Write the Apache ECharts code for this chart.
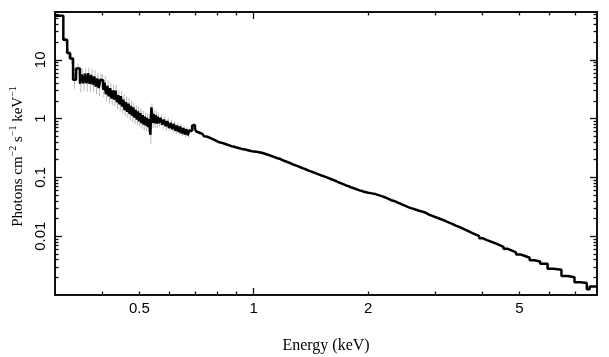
<!DOCTYPE html>
<html>
<head>
<meta charset="utf-8">
<script src="https://cdn.jsdelivr.net/npm/echarts@6/dist/echarts.min.js"></script>
<style>html,body{margin:0;padding:0;background:#fff}#c{width:609px;height:357px}</style>
</head>
<body>
<div id="c"></div>
<script>
// Bin lower edges (keV) and flux (photons cm^-2 s^-1 keV^-1)
const binLo = [
  0.300, 0.3155, 0.323, 0.3286, 0.3347, 0.3408,
  0.3490, 0.3525, 0.3560, 0.3595, 0.3630, 0.3665, 0.3700, 0.3735, 0.3770, 0.3805,
  0.3840, 0.3875, 0.3910, 0.3945, 0.3980, 0.4015, 0.4050, 0.4085, 0.4120, 0.4155,
  0.4190, 0.4225, 0.4260, 0.4295, 0.4330, 0.4365, 0.4400, 0.4435, 0.4470, 0.4505,
  0.4540, 0.4575, 0.4610, 0.4645, 0.4680, 0.4715, 0.4750, 0.4785, 0.4820, 0.4855,
  0.4890, 0.4925, 0.4960, 0.4995, 0.5030, 0.5065, 0.5100, 0.5135, 0.5170, 0.5205,
  0.5240, 0.5275, 0.5310, 0.5345, 0.5380, 0.5415, 0.5450, 0.5485, 0.5520, 0.5555,
  0.5590,
  0.5625, 0.5685, 0.5745, 0.5805, 0.5865, 0.5925, 0.5985, 0.6045, 0.6105, 0.6165,
  0.6225, 0.6285, 0.6345, 0.6405, 0.6465, 0.6525, 0.6585, 0.6645, 0.6705, 0.6765,
  0.6825, 0.6885, 0.6945, 0.7005, 0.7065, 0.7125, 0.7185,
  0.724, 0.732, 0.740, 0.748, 0.757, 0.766, 0.775, 0.784, 0.793,
  0.802, 0.812, 0.822, 0.832, 0.842, 0.852, 0.863, 0.874, 0.885, 0.896,
  0.907, 0.918, 0.930, 0.942, 0.954, 0.966, 0.978, 0.990,
  1.000, 1.025, 1.050, 1.075, 1.100, 1.125, 1.150, 1.175, 1.200, 1.225,
  1.250, 1.275, 1.300, 1.325, 1.350, 1.375, 1.400, 1.425, 1.450, 1.475,
  1.500, 1.525, 1.550, 1.575, 1.600, 1.625, 1.650, 1.675, 1.700, 1.725,
  1.750, 1.775, 1.800, 1.825, 1.850, 1.875, 1.900, 1.925, 1.950, 1.975,
  2.000, 2.03, 2.06, 2.09, 2.12, 2.15, 2.18, 2.21, 2.24, 2.27,
  2.30, 2.34, 2.38, 2.42, 2.46, 2.50, 2.54, 2.58, 2.62, 2.66,
  2.70, 2.74, 2.78, 2.82, 2.86, 2.90, 2.95, 3.00, 3.05, 3.10,
  3.16, 3.22, 3.28, 3.34, 3.40, 3.47, 3.54, 3.61, 3.68, 3.76,
  3.84, 3.92, 4.01, 4.11, 4.21, 4.31, 4.42, 4.54, 4.66, 4.78,
  4.90, 5.03, 5.17, 5.32, 5.47, 5.67, 5.93, 6.15, 6.45, 6.70,
  6.98, 7.25, 7.52, 7.65
];
const binEnd = 8.0;
const flux = [
  56, 22, 13, 10.5, 4.6, 7.1,
  3.9, 5.6, 4.0, 5.8, 4.0, 5.9, 3.9, 5.5, 3.8, 5.2,
  3.5, 4.8, 3.3, 4.6, 4.5, 3.1, 4.1, 2.6, 3.6, 2.4,
  3.3, 2.2, 3.0, 2.1, 3.0, 1.9, 2.5, 1.75, 2.4, 1.6,
  2.1, 1.4, 1.9, 1.3, 1.8, 1.2, 1.65, 1.12, 1.55, 1.04,
  1.4, 0.96, 1.33, 0.9, 1.24, 0.84, 1.14, 0.79, 1.08, 0.76,
  1.03, 0.72, 0.98, 0.53, 1.55, 0.85, 1.2, 0.84, 1.15, 0.82,
  1.08,
  0.84, 1.03, 0.79, 0.96, 0.74, 0.91, 0.69, 0.85, 0.66, 0.81,
  0.62, 0.76, 0.59, 0.73, 0.56, 0.69, 0.54, 0.66, 0.52, 0.63,
  0.62, 0.76, 0.78, 0.66, 0.60, 0.58, 0.56,
  0.55, 0.52, 0.50, 0.49, 0.47, 0.455, 0.44, 0.425, 0.41,
  0.395, 0.39, 0.375, 0.37, 0.355, 0.35, 0.34, 0.335, 0.325, 0.32,
  0.31, 0.305, 0.30, 0.295, 0.29, 0.283, 0.278, 0.272,
  0.270, 0.262, 0.250, 0.238, 0.226, 0.214, 0.205, 0.192, 0.183, 0.174,
  0.164, 0.157, 0.149, 0.142, 0.136, 0.129, 0.124, 0.119, 0.114, 0.109,
  0.105, 0.101, 0.097, 0.093, 0.090, 0.086, 0.082, 0.079, 0.076, 0.073,
  0.071, 0.068, 0.066, 0.064, 0.062, 0.060, 0.059, 0.057, 0.056, 0.055,
  0.054, 0.053, 0.052, 0.0505, 0.049, 0.0475, 0.046, 0.0445, 0.0428, 0.041,
  0.0398, 0.0378, 0.0362, 0.0345, 0.033, 0.0316, 0.0303, 0.0294, 0.0285, 0.0276,
  0.0268, 0.0262, 0.0253, 0.0242, 0.0231, 0.0222, 0.0212, 0.0204, 0.0196, 0.0187,
  0.0177, 0.0168, 0.0160, 0.0151, 0.0144, 0.0136, 0.0128, 0.0121, 0.0113, 0.0106,
  0.0100, 0.0092, 0.0086, 0.0081, 0.0076, 0.0071, 0.0066, 0.0061, 0.0057, 0.0053,
  0.0049, 0.0046, 0.0043, 0.0039, 0.0037, 0.0034, 0.0028, 0.0027, 0.0021, 0.0020,
  0.00165, 0.0016, 0.00125, 0.0014
];
// Relative 1-sigma uncertainty of the first (low-energy) bins
const fluxErr = [
  0.06, 0.12, 0.18, 0.2, 0.3, 0.22,
  0.28, 0.26, 0.27, 0.25, 0.28, 0.24, 0.27, 0.26, 0.25, 0.27,
  0.26, 0.25, 0.27, 0.24, 0.26, 0.25, 0.27, 0.24, 0.26, 0.25,
  0.25, 0.24, 0.26, 0.23, 0.25, 0.24, 0.23, 0.25, 0.22, 0.24,
  0.23, 0.22, 0.24, 0.21, 0.23, 0.22, 0.21, 0.23, 0.2, 0.22,
  0.21, 0.2, 0.22, 0.19, 0.21, 0.2, 0.19, 0.21, 0.18, 0.2,
  0.19, 0.18, 0.2, 0.3, 0.18, 0.19, 0.17, 0.18, 0.17, 0.16,
  0.17,
  0.15, 0.14, 0.15, 0.13, 0.14, 0.13, 0.12, 0.13, 0.12, 0.11,
  0.12, 0.11, 0.1, 0.11, 0.1, 0.09, 0.1, 0.09, 0.09, 0.08,
  0.08, 0.08, 0.07, 0.07, 0.07, 0.06, 0.06
];
const xLabelTicks = [0.5, 1, 2, 5];
const xMajorTicks = [1];
const xMinorTicks = [0.4, 0.5, 0.6, 0.7, 0.8, 0.9, 2, 3, 4, 5, 6, 7];
const yLabelTicks = [0.01, 0.1, 1, 10];
const yMajorTicks = [0.01, 0.1, 1, 10];
const yMinorTicks = [0.002, 0.003, 0.004, 0.005, 0.006, 0.007, 0.008, 0.009,
  0.02, 0.03, 0.04, 0.05, 0.06, 0.07, 0.08, 0.09,
  0.2, 0.3, 0.4, 0.5, 0.6, 0.7, 0.8, 0.9,
  2, 3, 4, 5, 6, 7, 8, 9, 20, 30, 40, 50, 60];
const xRange = [0.3, 8.0];
const yRange = [0.001, 65];

const lineData = binLo.map((e, i) => [e, flux[i]]).concat([[binEnd, flux[flux.length - 1]]]);
const errData = fluxErr.map((f, i) => {
  const hi = i + 1 < binLo.length ? binLo[i + 1] : binEnd;
  const c = Math.sqrt(binLo[i] * hi);
  return [c, flux[i] * (1 - f), flux[i] * (1 + f)];
});

const AX = '#111';
function xAx(pos, ticks, len, withLabels) {
  return {
    type: 'log', logBase: 10, min: xRange[0], max: xRange[1], position: pos,
    axisLine: { show: true, onZero: false, lineStyle: { color: AX, width: 2 } },
    axisTick: { show: true, inside: true, length: len, customValues: ticks, lineStyle: { color: AX, width: 1.3 } },
    axisLabel: withLabels ? {
      show: true, customValues: xLabelTicks, margin: 6, color: '#000',
      fontFamily: 'Liberation Sans', fontSize: 15,
      formatter: v => String(v)
    } : { show: false },
    splitLine: { show: false }, minorTick: { show: false }, minorSplitLine: { show: false }
  };
}
function yAx(pos, ticks, len, withLabels) {
  return {
    type: 'log', logBase: 10, min: yRange[0], max: yRange[1], position: pos,
    axisLine: { show: true, onZero: false, lineStyle: { color: AX, width: 2 } },
    axisTick: { show: true, inside: true, length: len, customValues: ticks, lineStyle: { color: AX, width: 1.3 } },
    axisLabel: withLabels ? {
      show: true, customValues: yLabelTicks, margin: 7, rotate: 90, color: '#000',
      fontFamily: 'Liberation Sans', fontSize: 15,
      formatter: v => String(v)
    } : { show: false },
    splitLine: { show: false }, minorTick: { show: false }, minorSplitLine: { show: false }
  };
}

const xAxes = [
  xAx('bottom', xMajorTicks, 7, true),
  xAx('bottom', xMinorTicks, 3.5, false),
  xAx('top', xMajorTicks, 7, false),
  xAx('top', xMinorTicks, 3.5, false)
];
xAxes[0].name = 'Energy (keV)';
xAxes[0].nameLocation = 'middle';
xAxes[0].nameGap = 43;
xAxes[0].nameTextStyle = { fontFamily: 'Liberation Serif', fontSize: 16, color: '#000' };

const yAxes = [
  yAx('left', yMajorTicks, 7, true),
  yAx('left', yMinorTicks, 3.5, false),
  yAx('right', yMajorTicks, 7, false),
  yAx('right', yMinorTicks, 3.5, false)
];
yAxes[0].name = '{a|Photons cm}{s|\u22122}{a| s}{s|\u22121}{a| keV}{s|\u22121}';
yAxes[0].nameLocation = 'middle';
yAxes[0].nameGap = 28;
yAxes[0].nameTextStyle = {
  color: '#000',
  padding: [0, 6, 0, 0],
  rich: {
    a: { fontFamily: 'Liberation Serif', fontSize: 15, lineHeight: 18, color: '#000' },
    s: { fontFamily: 'Liberation Serif', fontSize: 10, verticalAlign: 'top', color: '#000' }
  }
};

const chart = echarts.init(document.getElementById('c'), null, { renderer: 'canvas' });
chart.setOption({
  animation: false,
  backgroundColor: '#fff',
  grid: { left: 55, right: 12, top: 12, bottom: 62, containLabel: false, outerBoundsMode: 'none' },
  xAxis: xAxes,
  yAxis: yAxes,
  series: [
    {
      type: 'custom', xAxisIndex: 0, yAxisIndex: 0, z: 1, silent: true,
      data: errData,
      renderItem: function (params, api) {
        const p1 = api.coord([api.value(0), api.value(1)]);
        const p2 = api.coord([api.value(0), api.value(2)]);
        return { type: 'line', shape: { x1: p1[0], y1: p1[1], x2: p2[0], y2: p2[1] },
          style: { stroke: '#b8b8b8', lineWidth: 1 } };
      }
    },
    {
      type: 'line', xAxisIndex: 0, yAxisIndex: 0, z: 3,
      step: 'end', showSymbol: false, symbol: 'none',
      lineStyle: { color: '#000', width: 2.5 },
      data: lineData
    }
  ]
});
</script>
</body>
</html>
